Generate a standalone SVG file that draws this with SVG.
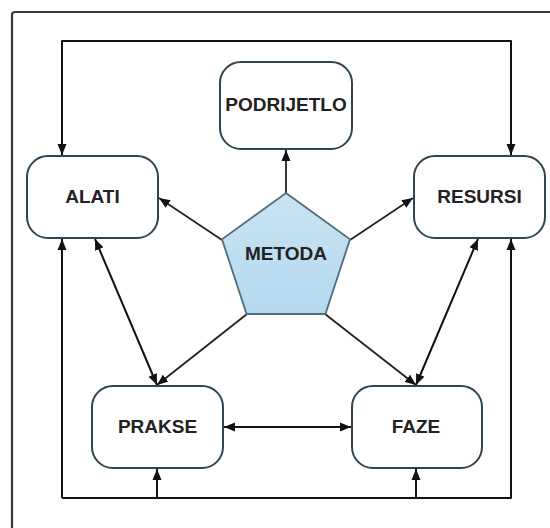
<svg xmlns="http://www.w3.org/2000/svg" width="550" height="528" viewBox="0 0 550 528">
  <defs>
    <marker id="arr" markerUnits="userSpaceOnUse" markerWidth="12" markerHeight="10" refX="11" refY="5" orient="auto-start-reverse">
      <path d="M0,0.5 L11,5 L0,9.5 z" fill="#111"/>
    </marker>
    <linearGradient id="pg" x1="0" y1="0" x2="0" y2="1">
      <stop offset="0" stop-color="#c9e4f3"/>
      <stop offset="1" stop-color="#b4d8ee"/>
    </linearGradient>
    <style>
      .box { fill: #ffffff; stroke: #2f4552; stroke-width: 2; }
      .lbl { font-family: "Liberation Sans", Arial, sans-serif; font-size: 19px; font-weight: bold; fill: #222; text-anchor: middle; dominant-baseline: central; }
      .c { fill: none; stroke: #111; stroke-width: 2; stroke-linejoin: round; }
      .cm { fill: none; stroke: #222; stroke-width: 1.8; }
    </style>
  </defs>
  <rect x="0" y="0" width="550" height="528" fill="#ffffff"/>
  <rect x="12" y="12" width="570" height="560" rx="3" fill="none" stroke="#3a3a3a" stroke-width="2.2"/>

  <g id="connectors">
    <path class="c" d="M62,155 L62,41 L511,41 L511,155" marker-start="url(#arr)" marker-end="url(#arr)"/>
    <path class="c" d="M62,498 L62,239" marker-end="url(#arr)"/>
    <path class="c" d="M62,498 L511,498 L511,239" marker-end="url(#arr)"/>
    <path class="c" d="M157,498 L157,469" marker-end="url(#arr)"/>
    <path class="c" d="M416,498 L416,469" marker-end="url(#arr)"/>
    <path class="cm" d="M286,193 L286,150" marker-end="url(#arr)"/>
    <path class="cm" d="M222,240 L159,198" marker-end="url(#arr)"/>
    <path class="cm" d="M350,240 L413,198" marker-end="url(#arr)"/>
    <path class="cm" d="M247,314 L157,385" marker-end="url(#arr)"/>
    <path class="cm" d="M325,314 L416,385" marker-end="url(#arr)"/>
    <path class="c" d="M95,239 L157,385" marker-start="url(#arr)" marker-end="url(#arr)"/>
    <path class="c" d="M478,239 L416,385" marker-start="url(#arr)" marker-end="url(#arr)"/>
    <path class="c" d="M224,427 L351,427" marker-start="url(#arr)" marker-end="url(#arr)"/>
  </g>

  <g id="podrijetlo">
    <rect class="box" x="220" y="62" width="132" height="87" rx="21"/>
    <text class="lbl" x="286" y="104">PODRIJETLO</text>
  </g>
  <g id="alati">
    <rect class="box" x="27" y="156" width="131" height="82" rx="21"/>
    <text class="lbl" x="92.5" y="196">ALATI</text>
  </g>
  <g id="resursi">
    <rect class="box" x="414" y="156" width="131" height="82" rx="21"/>
    <text class="lbl" x="479.5" y="196">RESURSI</text>
  </g>
  <g id="metoda">
    <polygon points="286,193 350,239.3 325.4,314 246.6,314 222,239.3" fill="url(#pg)" stroke="#4f6d7c" stroke-width="1.8"/>
    <text class="lbl" x="286" y="253" fill="#1e2a33">METODA</text>
  </g>
  <g id="prakse">
    <rect class="box" x="92" y="386" width="131" height="82" rx="21"/>
    <text class="lbl" x="157.5" y="426">PRAKSE</text>
  </g>
  <g id="faze">
    <rect class="box" x="352" y="386" width="130" height="82" rx="21"/>
    <text class="lbl" x="416" y="426">FAZE</text>
  </g>
</svg>
